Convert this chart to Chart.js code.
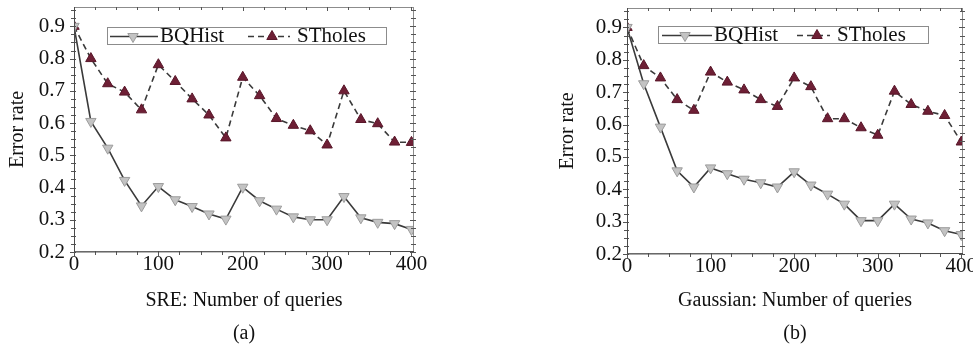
<!DOCTYPE html>
<html>
<head>
<meta charset="utf-8">
<script src="https://cdn.jsdelivr.net/npm/chart.js@4.4.0/dist/chart.umd.min.js"></script>
<style>
  body { margin: 0; background: #fff; width: 973px; height: 351px; overflow: hidden; position: relative; }
  .panel { position: absolute; top: 0; height: 351px; }
</style>
</head>
<body>
<div class="panel" style="left:0;width:486px"><canvas id="sreChart"></canvas></div>
<div class="panel" style="left:486px;width:487px"><canvas id="gaussChart"></canvas></div>
<script>
// Data
const queries = [0, 20, 40, 60, 80, 100, 120, 140, 160, 180, 200, 220, 240, 260, 280, 300, 320, 340, 360, 380, 400];

const sreBQHist   = [0.90, 0.605, 0.522, 0.422, 0.343, 0.403, 0.362, 0.341, 0.318, 0.302, 0.401, 0.359, 0.333, 0.309, 0.300, 0.300, 0.372, 0.306, 0.292, 0.288, 0.270];
const sreSTholes  = [0.90, 0.800, 0.722, 0.696, 0.641, 0.781, 0.729, 0.675, 0.625, 0.554, 0.742, 0.685, 0.614, 0.593, 0.576, 0.532, 0.700, 0.611, 0.598, 0.541, 0.540];

const gaussBQHist  = [0.90, 0.726, 0.592, 0.457, 0.407, 0.466, 0.448, 0.431, 0.420, 0.407, 0.454, 0.413, 0.385, 0.354, 0.303, 0.303, 0.354, 0.308, 0.296, 0.272, 0.260];
const gaussSTholes = [0.90, 0.782, 0.744, 0.677, 0.644, 0.762, 0.731, 0.707, 0.677, 0.656, 0.744, 0.717, 0.618, 0.618, 0.590, 0.567, 0.703, 0.662, 0.641, 0.628, 0.546];

const seriesNames = ["BQHist", "STholes"];
const xTicks = [0, 100, 200, 300, 400];
const yTicks = [0.2, 0.3, 0.4, 0.5, 0.6, 0.7, 0.8, 0.9];

const FONT = '"Liberation Serif", "Times New Roman", serif';

// frame with minor ticks on all four sides
const framePlugin = {
  id: "frame",
  afterDatasetsDraw(chart) {
    const { ctx, chartArea: a, scales: { x, y } } = chart;
    ctx.save();
    ctx.lineWidth = 1;
    ctx.strokeStyle = "#8c8c8c";
    ctx.strokeRect(a.left + 0.5, a.top + 0.5, a.right - a.left - 1, a.bottom - a.top - 1);

    ctx.strokeStyle = "#555";
    ctx.beginPath();
    for (let v = 0; v <= x.max; v += 25) {
      const px = Math.round(x.getPixelForValue(v)) + 0.5;
      const len = v % 100 === 0 ? 4 : 3;
      ctx.moveTo(px, a.bottom - 1); ctx.lineTo(px, a.bottom + len);
      ctx.moveTo(px, a.top); ctx.lineTo(px, a.top + len);
    }
    for (let i = 0; i <= 30; i++) {
      const v = 0.2 + i * 0.025;
      const py = Math.round(y.getPixelForValue(v)) + 0.5;
      const len = i % 4 === 0 ? 4 : 3;
      ctx.moveTo(a.left - len, py); ctx.lineTo(a.left + 2, py);
      ctx.moveTo(a.right - len, py); ctx.lineTo(a.right + 2, py);
    }
    ctx.stroke();

    // left and bottom axis lines
    ctx.strokeStyle = "#4a4a4a";
    ctx.beginPath();
    ctx.moveTo(a.left + 0.5, a.top); ctx.lineTo(a.left + 0.5, a.bottom);
    ctx.lineTo(a.right, a.bottom - 0.5);
    ctx.stroke();
    ctx.restore();
  }
};

// boxed legend inside the plot
const legendPlugin = {
  id: "boxLegend",
  afterDraw(chart, args, opts) {
    const { ctx } = chart;
    const b = opts.box;
    ctx.save();
    ctx.fillStyle = "#fff";
    ctx.fillRect(b.left, b.top, b.width, b.height);
    ctx.strokeStyle = "#8c8c8c";
    ctx.lineWidth = 1;
    ctx.strokeRect(b.left + 0.5, b.top + 0.5, b.width, b.height);
    const cy = b.top + b.height / 2 + 1;
    opts.items.forEach((it, i) => {
      const ds = chart.data.datasets[i];
      ctx.save();
      ctx.strokeStyle = ds.borderColor;
      ctx.lineWidth = ds.borderWidth;
      ctx.setLineDash(ds.borderDash || []);
      ctx.beginPath();
      ctx.moveTo(it.from, cy); ctx.lineTo(it.to, cy);
      ctx.stroke();
      ctx.restore();
      ctx.save();
      ctx.setLineDash([]);
      ctx.fillStyle = ds.pointBackgroundColor;
      ctx.strokeStyle = ds.pointBorderColor;
      ctx.lineWidth = ds.pointBorderWidth;
      Chart.helpers.drawPoint(ctx, {
        pointStyle: ds.pointStyle, rotation: ds.pointRotation,
        radius: ds.pointRadius, borderWidth: ds.pointBorderWidth
      }, it.marker, cy);
      ctx.restore();
      ctx.fillStyle = "#111";
      ctx.font = "21px " + FONT;
      ctx.textBaseline = "middle";
      ctx.fillText(seriesNames[i], it.text, cy);
    });
    ctx.restore();
  }
};

function makeChart(id, bq, st, xTitle, caption, L) {
  return new Chart(document.getElementById(id), {
    type: "line",
    data: {
      labels: queries,
      datasets: [
        {
          label: seriesNames[0],
          data: queries.map((q, i) => ({ x: q, y: bq[i] })),
          borderColor: "#3a3a3a", borderWidth: 1.6,
          pointStyle: "triangle", pointRotation: 180, pointRadius: 6,
          pointBackgroundColor: "#c3c3c3", pointBorderColor: "#9c9c9c", pointBorderWidth: 1,
          tension: 0
        },
        {
          label: seriesNames[1],
          data: queries.map((q, i) => ({ x: q, y: st[i] })),
          borderColor: "#3a3a3a", borderWidth: 1.6, borderDash: [6, 4],
          pointStyle: "triangle", pointRotation: 0, pointRadius: 6,
          pointBackgroundColor: "#6e1f35", pointBorderColor: "#581629", pointBorderWidth: 1,
          tension: 0
        }
      ]
    },
    options: {
      responsive: true,
      maintainAspectRatio: false,
      animation: false,
      layout: { padding: { left: 0, right: L.padRight, top: L.top, bottom: 0 } },
      plugins: {
        legend: { display: false },
        tooltip: { enabled: false },
        boxLegend: L.legend
      },
      scales: {
        x: {
          type: "linear", min: 0, max: L.xMax,
          grid: { display: false, drawTicks: false }, border: { display: false },
          afterBuildTicks: s => { s.ticks = xTicks.map(v => ({ value: v })); },
          afterFit: s => { s.height = L.xHeight; s.paddingLeft = 0; s.paddingRight = 0; },
          ticks: { color: "#111", padding: 0, maxRotation: 0, font: { family: FONT, size: 21 } },
          title: {
            display: true, text: [xTitle, caption], color: "#111",
            font: { family: FONT, size: 20, lineHeight: "33px" },
            padding: { top: 0, bottom: 1 }
          }
        },
        y: {
          type: "linear", min: 0.2, max: 0.96,
          grid: { display: false, drawTicks: false }, border: { display: false },
          afterBuildTicks: s => { s.ticks = yTicks.map(v => ({ value: v })); },
          afterFit: s => { s.width = L.yWidth; s.paddingTop = 0; s.paddingBottom = 0; },
          ticks: { color: "#111", padding: L.yPad, font: { family: FONT, size: 21 }, callback: v => v.toFixed(1) },
          title: {
            display: true, text: "Error rate", color: "#111",
            font: { family: FONT, size: 20 },
            padding: { top: L.yTitlePad, bottom: 0 }
          }
        }
      }
    },
    plugins: [framePlugin, legendPlugin]
  });
}

makeChart("sreChart", sreBQHist, sreSTholes, "SRE: Number of queries", "(a)", {
  padRight: 72, top: 7, xMax: 403, xHeight: 99, yWidth: 74, yPad: 9, yTitlePad: 6,
  legend: {
    box: { left: 107, top: 27, width: 279, height: 17 },
    items: [
      { from: 110, to: 158, marker: 133, text: 160 },
      { from: 248, to: 290, marker: 272, text: 297 }
    ]
  }
});

makeChart("gaussChart", gaussBQHist, gaussSTholes, "Gaussian: Number of queries", "(b)", {
  padRight: 10, top: 8, xMax: 402, xHeight: 97, yWidth: 141, yPad: 5, yTitlePad: 70,
  legend: {
    box: { left: 172, top: 26, width: 270, height: 17 },
    items: [
      { from: 176, to: 226, marker: 199, text: 228 },
      { from: 311, to: 344, marker: 331, text: 351 }
    ]
  }
});
</script>
</body>
</html>
